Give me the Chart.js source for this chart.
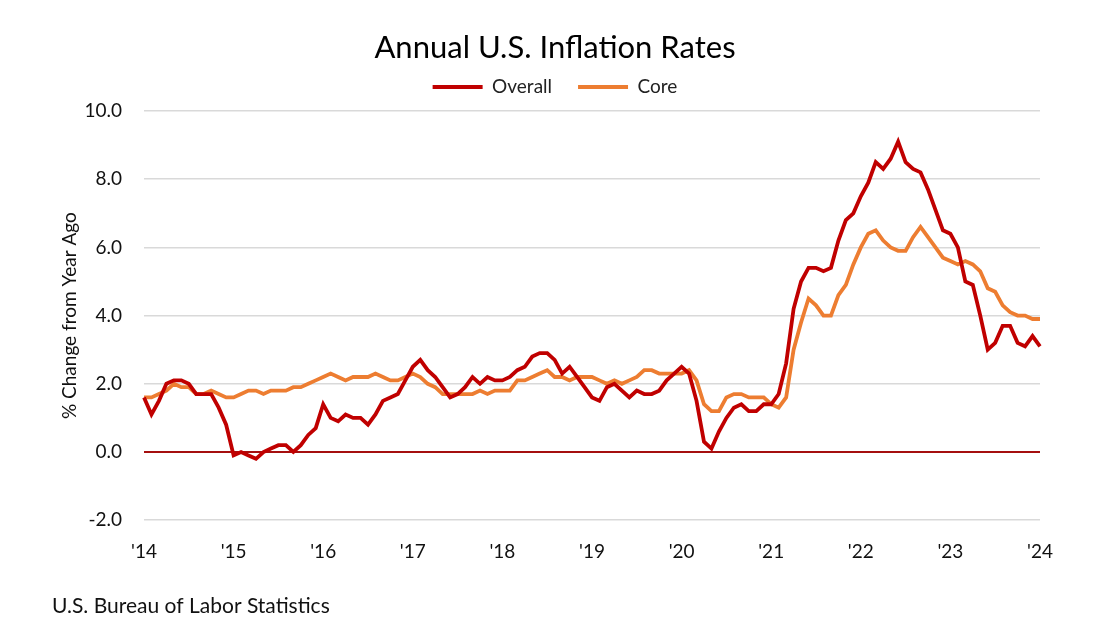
<!DOCTYPE html>
<html>
<head>
<meta charset="utf-8">
<script src="https://cdn.jsdelivr.net/npm/chart.js@4.4.1/dist/chart.umd.min.js"></script>
<style>
  html, body { margin: 0; padding: 0; background: #fff; }
  #wrap { width: 1110px; height: 637px; position: relative; }
</style>
</head>
<body>
<div id="wrap"><canvas id="grafico" width="1110" height="637"></canvas></div>
<script>
// Datos: IPC anual, enero 2014 a enero 2024 (mensual)
const anios = ["'14", "'15", "'16", "'17", "'18", "'19", "'20", "'21", "'22", "'23", "'24"];

const overall = [
  1.6, 1.1, 1.5, 2.0, 2.1, 2.1, 2.0, 1.7, 1.7, 1.7, 1.3, 0.8, // 2014
  -0.1, 0.0, -0.1, -0.2, 0.0, 0.1, 0.2, 0.2, 0.0, 0.2, 0.5, 0.7, // 2015
  1.4, 1.0, 0.9, 1.1, 1.0, 1.0, 0.8, 1.1, 1.5, 1.6, 1.7, 2.1, // 2016
  2.5, 2.7, 2.4, 2.2, 1.9, 1.6, 1.7, 1.9, 2.2, 2.0, 2.2, 2.1, // 2017
  2.1, 2.2, 2.4, 2.5, 2.8, 2.9, 2.9, 2.7, 2.3, 2.5, 2.2, 1.9, // 2018
  1.6, 1.5, 1.9, 2.0, 1.8, 1.6, 1.8, 1.7, 1.7, 1.8, 2.1, 2.3, // 2019
  2.5, 2.3, 1.5, 0.3, 0.1, 0.6, 1.0, 1.3, 1.4, 1.2, 1.2, 1.4, // 2020
  1.4, 1.7, 2.6, 4.2, 5.0, 5.4, 5.4, 5.3, 5.4, 6.2, 6.8, 7.0, // 2021
  7.5, 7.9, 8.5, 8.3, 8.6, 9.1, 8.5, 8.3, 8.2, 7.7, 7.1, 6.5, // 2022
  6.4, 6.0, 5.0, 4.9, 4.0, 3.0, 3.2, 3.7, 3.7, 3.2, 3.1, 3.4, // 2023
  3.1 // 2024
];

const core = [
  1.6, 1.6, 1.7, 1.8, 2.0, 1.9, 1.9, 1.7, 1.7, 1.8, 1.7, 1.6, // 2014
  1.6, 1.7, 1.8, 1.8, 1.7, 1.8, 1.8, 1.8, 1.9, 1.9, 2.0, 2.1, // 2015
  2.2, 2.3, 2.2, 2.1, 2.2, 2.2, 2.2, 2.3, 2.2, 2.1, 2.1, 2.2, // 2016
  2.3, 2.2, 2.0, 1.9, 1.7, 1.7, 1.7, 1.7, 1.7, 1.8, 1.7, 1.8, // 2017
  1.8, 1.8, 2.1, 2.1, 2.2, 2.3, 2.4, 2.2, 2.2, 2.1, 2.2, 2.2, // 2018
  2.2, 2.1, 2.0, 2.1, 2.0, 2.1, 2.2, 2.4, 2.4, 2.3, 2.3, 2.3, // 2019
  2.3, 2.4, 2.1, 1.4, 1.2, 1.2, 1.6, 1.7, 1.7, 1.6, 1.6, 1.6, // 2020
  1.4, 1.3, 1.6, 3.0, 3.8, 4.5, 4.3, 4.0, 4.0, 4.6, 4.9, 5.5, // 2021
  6.0, 6.4, 6.5, 6.2, 6.0, 5.9, 5.9, 6.3, 6.6, 6.3, 6.0, 5.7, // 2022
  5.6, 5.5, 5.6, 5.5, 5.3, 4.8, 4.7, 4.3, 4.1, 4.0, 4.0, 3.9, // 2023
  3.9 // 2024
];

// etiquetas mensuales: solo enero muestra el año
const meses = overall.map((v, i) => (i % 12 === 0 ? anios[i / 12] : ''));

const fuente = 'Lato, "Open Sans", sans-serif';
const rojo = '#c00000';
const naranja = '#ed7d31';
const textoFuente = 'U.S. Bureau of Labor Statistics';

// plugin para escribir la fuente abajo a la izquierda
const pluginFuente = {
  id: 'fuente',
  afterDraw: (chart) => {
    const c = chart.ctx;
    c.save();
    c.font = '21px ' + fuente;
    c.fillStyle = '#111';
    c.textBaseline = 'middle';
    c.textAlign = 'left';
    c.fillText(textoFuente, 52, 606);
    c.restore();
  }
};

const ctx = document.getElementById('grafico');

new Chart(ctx, {
  type: 'line',
  data: {
    labels: meses,
    datasets: [
      { label: 'Overall', data: overall, borderColor: rojo, backgroundColor: rojo,
        borderWidth: 3.8, pointRadius: 0, tension: 0 },
      { label: 'Core', data: core, borderColor: naranja, backgroundColor: naranja,
        borderWidth: 3.8, pointRadius: 0, tension: 0 }
    ]
  },
  plugins: [pluginFuente],
  options: {
    responsive: false,
    animation: false,
    layout: { padding: { left: 20, right: 20, top: 29, bottom: 62 } },
    plugins: {
      title: {
        display: true,
        text: 'Annual U.S. Inflation Rates',
        color: '#000',
        font: { family: fuente, size: 31, weight: 'normal' },
        padding: { top: 0, bottom: -14.7 }
      },
      legend: {
        display: true,
        labels: {
          usePointStyle: true,
          pointStyle: 'line',
          pointStyleWidth: 50,
          color: '#222',
          font: { family: fuente, size: 19 },
          padding: 26
        }
      },
      tooltip: { enabled: false }
    },
    scales: {
      x: {
        grid: { display: false },
        border: { display: false },
        ticks: {
          autoSkip: false,
          maxRotation: 0,
          padding: 12,
          color: '#111',
          font: { family: fuente, size: 19 }
        }
      },
      // eje superior vacío, separa la leyenda del área del gráfico
      xTop: {
        type: 'category',
        position: 'top',
        afterFit: (scale) => { scale.height = 4.5; },
        border: { display: false },
        grid: { display: false },
        ticks: { display: false }
      },
      y: {
        min: -2,
        max: 10,
        afterFit: (scale) => { scale.width = 124; },
        border: { display: false },
        grid: {
          drawTicks: false,
          lineWidth: (c) => (c.tick && c.tick.value === 0 ? 2 : 1.5),
          color: (c) => (c.tick && c.tick.value === 0 ? '#a50f0f' : '#d9d9d9')
        },
        ticks: {
          stepSize: 2,
          padding: 22,
          color: '#111',
          font: { family: fuente, size: 19 },
          callback: (v) => v.toFixed(1)
        },
        title: {
          display: true,
          text: '% Change from Year Ago',
          color: '#111',
          font: { family: fuente, size: 19 },
          padding: { top: 38, bottom: 0 }
        }
      },
      // eje derecho vacío, solo reserva espacio
      y2: {
        position: 'right',
        min: -2,
        max: 10,
        afterFit: (scale) => { scale.width = 50; },
        border: { display: false },
        grid: { display: false },
        ticks: { display: false }
      }
    }
  }
});
</script>
</body>
</html>
